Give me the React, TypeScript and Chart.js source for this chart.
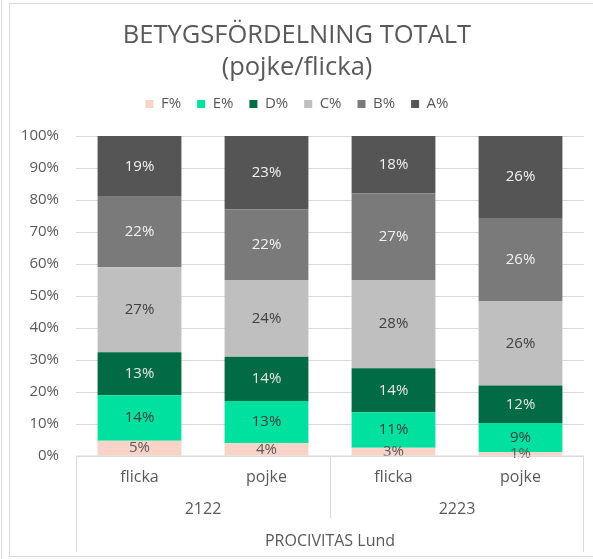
import React, { useEffect, useRef } from "react";
import { Chart, registerables } from "chart.js";

Chart.register(...registerables);

const categories = ["flicka", "pojke", "flicka", "pojke"];
const groups = ["2122", "2223"];
const topGroup = "PROCIVITAS Lund";
const seriesNames = ["F%", "E%", "D%", "C%", "B%", "A%"];
const F = [4.8, 4.0, 2.6, 1.2];
const E = [14.2, 13.2, 11.1, 9.1];
const D = [13.4, 13.8, 13.7, 11.7];
const C = [26.6, 24.0, 27.6, 26.4];
const B = [22.0, 22.0, 27.0, 26.0];
const A = [19.0, 23.0, 18.0, 25.6];
const yTicks = [0, 10, 20, 30, 40, 50, 60, 70, 80, 90, 100];

const colors = ["#f8d3c8", "#00e09e", "#006b45", "#bfbfbf", "#7a7a7a", "#555555"];
const labelColors = ["#595959", "#404040", "#e6e6e6", "#404040", "#f2f2f2", "#f2f2f2"];
const FONT = "'Open Sans', sans-serif";
const TXT = "#595959";
const LINE = "#d9d9d9";

const dataLabels = {
  id: "dataLabels",
  afterDatasetsDraw(chart: any) {
    const ctx = chart.ctx;
    ctx.save();
    ctx.font = `15px ${FONT}`;
    ctx.textAlign = "center";
    ctx.textBaseline = "middle";
    chart.data.datasets.forEach((ds: any, i: number) => {
      const meta = chart.getDatasetMeta(i);
      meta.data.forEach((bar: any, j: number) => {
        const v = ds.data[j];
        const p = bar.getProps(["x", "y", "base"], true);
        ctx.fillStyle = labelColors[i];
        ctx.fillText(Math.round(v) + "%", p.x, (p.y + p.base) / 2);
      });
    });
    ctx.restore();
  },
};

const frameAndAxis = {
  id: "frameAndAxis",
  beforeDraw(chart: any) {
    const ctx = chart.ctx;
    ctx.save();
    ctx.strokeStyle = LINE;
    ctx.lineWidth = 1;
    ctx.beginPath();
    ctx.moveTo(1.5, 0);
    ctx.lineTo(1.5, 559);
    ctx.rect(9.5, 3.5, 700, 553);
    ctx.stroke();
    ctx.restore();
  },
  afterDraw(chart: any) {
    const ctx = chart.ctx;
    const x = chart.scales.x;
    const a = chart.chartArea;
    const y0 = a.bottom;
    ctx.save();
    ctx.strokeStyle = LINE;
    ctx.lineWidth = 1;
    const L = Math.round(a.left) + 0.5;
    const R = Math.round(a.right) - 0.5;
    const mid = Math.round((x.getPixelForValue(1) + x.getPixelForValue(2)) / 2) + 0.5;
    ctx.beginPath();
    ctx.moveTo(L, y0);
    ctx.lineTo(R, y0);
    ctx.moveTo(L, y0);
    ctx.lineTo(L, y0 + 96);
    ctx.moveTo(R, y0);
    ctx.lineTo(R, y0 + 96);
    ctx.moveTo(mid, y0);
    ctx.lineTo(mid, y0 + 62);
    ctx.stroke();
    ctx.fillStyle = TXT;
    ctx.font = `16px ${FONT}`;
    ctx.textAlign = "center";
    ctx.textBaseline = "middle";
    categories.forEach((c, j) => {
      ctx.fillText(c, x.getPixelForValue(j), y0 + 21);
    });
    groups.forEach((g, k) => {
      const cx = (x.getPixelForValue(k * 2) + x.getPixelForValue(k * 2 + 1)) / 2;
      ctx.fillText(g, cx, y0 + 53);
    });
    ctx.fillText(topGroup, (a.left + a.right) / 2, y0 + 85);
    ctx.restore();
  },
};

export default function App() {
  const ref = useRef<HTMLCanvasElement>(null);
  useEffect(() => {
    document.body.style.margin = "0";
    const series = [F, E, D, C, B, A];
    const chart = new Chart(ref.current!, {
      type: "bar",
      data: {
        labels: categories,
        datasets: series.map((d, i) => ({
          label: seriesNames[i],
          data: d,
          backgroundColor: colors[i],
          borderWidth: 0,
          categoryPercentage: 1,
          barPercentage: 0.66,
        })),
      },
      options: {
        animation: false,
        responsive: false,
        maintainAspectRatio: false,
        layout: { padding: { left: 10, right: 9, top: 0, bottom: 103 } },
        plugins: {
          title: {
            display: true,
            text: ["BETYGSFÖRDELNING TOTALT", "(pojke/flicka)"],
            color: TXT,
            font: { family: FONT, size: 25.5, weight: "normal", lineHeight: 1.255 },
            padding: { top: 19.5, bottom: -3 },
          },
          subtitle: {
            display: true,
            text: " ",
            position: "top",
            weight: 500,
            padding: 0,
            font: { size: 14.5, lineHeight: 1 },
          },
          legend: {
            display: true,
            labels: {
              color: TXT,
              font: { family: FONT, size: 15 },
              boxWidth: 8,
              boxHeight: 8,
              padding: 16,
            },
          },
          tooltip: { enabled: false },
        },
        scales: {
          x: {
            display: false,
            stacked: true,
            grid: { display: false },
          },
          y: {
            stacked: true,
            min: 0,
            max: 100,
            afterFit(s: any) {
              s.width = 66;
            },
            afterBuildTicks(s: any) {
              s.ticks = yTicks.map((v) => ({ value: v }));
            },
            grid: { color: LINE, drawTicks: false },
            border: { display: false },
            ticks: {
              color: TXT,
              font: { family: FONT, size: 15 },
              padding: 17,
              callback: (v: any) => v + "%",
            },
          },
        },
      },
      plugins: [dataLabels, frameAndAxis],
    });
    return () => chart.destroy();
  }, []);
  return <canvas ref={ref} width={593} height={559} style={{ display: "block" }} />;
}
